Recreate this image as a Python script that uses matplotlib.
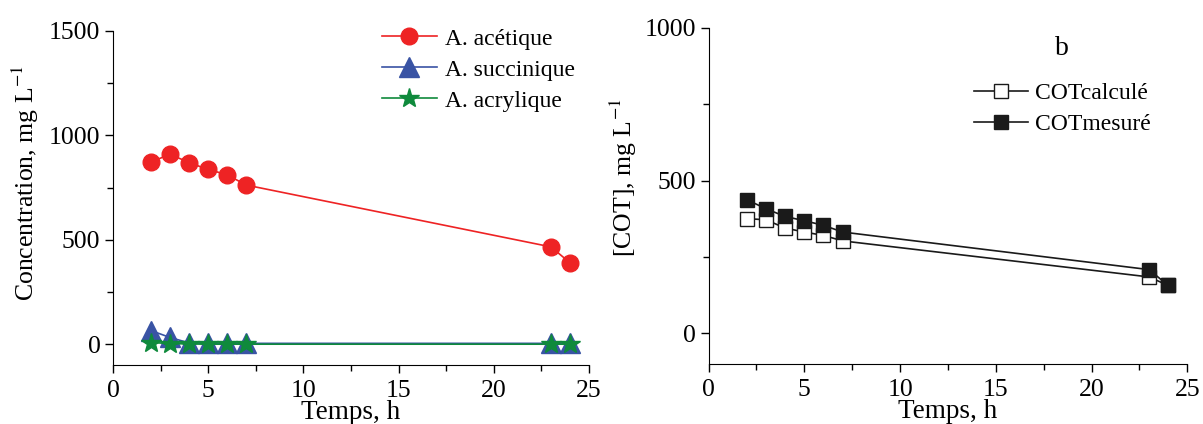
import matplotlib
matplotlib.use("Agg")
import matplotlib.pyplot as plt
from matplotlib.ticker import MultipleLocator

plt.rcParams['font.family'] = ['Liberation Serif', 'DejaVu Serif']
plt.rcParams['mathtext.fontset'] = 'stix'

temps = [2, 3, 4, 5, 6, 7, 23, 24]
acetique = [872, 910, 869, 837, 811, 762, 466, 390]
succinique = [65, 32, 6, 4, 4, 4, 4, 4]
acrylique = [8, 3, 1, 0, 0, 0, 0, 0]
cot_calcule = [376, 372, 345, 332, 321, 303, 185, 157]
cot_mesure = [438, 408, 383, 369, 354, 332, 209, 157]

fig = plt.figure(figsize=(12.03, 4.24), dpi=100)
ax1 = fig.add_axes([0.0939, 0.139, 0.3957, 0.788])
ax2 = fig.add_axes([0.589, 0.1415, 0.398, 0.7925])

red, blue, green = '#ee2324', '#3953a4', '#0f8a3c'
ax1.plot(temps, acetique, '-o', color=red, mfc=red, mec=red, ms=12, lw=1.2, label='A. acétique')
ax1.plot(temps, succinique, '-^', color=blue, mfc=blue, mec=blue, ms=14, lw=1.2, label='A. succinique')
ax1.plot(temps, acrylique, '-*', color=green, mfc=green, mec=green, ms=15, lw=1.2, label='A. acrylique')
ax1.set_xlim(0, 25)
ax1.set_ylim(-100, 1500)
ax1.yaxis.set_major_locator(MultipleLocator(500))
ax1.yaxis.set_minor_locator(MultipleLocator(250))
ax1.set_ylabel('Concentration, mg L$^{-1}$', fontsize=18.5)
ax1.yaxis.set_label_coords(-0.151, 0.545)
ax1.legend(loc='upper left', bbox_to_anchor=(0.546, 1.037), frameon=False, fontsize=17,
           handlelength=2.3, handletextpad=0.35, labelspacing=0.4, borderaxespad=0)

ax2.plot(temps, cot_calcule, '-s', color='#1a1a1a', mfc='white', mec='#1a1a1a', ms=10, lw=1.2, label='COTcalculé')
ax2.plot(temps, cot_mesure, '-s', color='#1a1a1a', mfc='#1a1a1a', mec='#1a1a1a', ms=10, lw=1.2, label='COTmesuré')
ax2.set_xlim(0, 25)
ax2.set_ylim(-100, 1000)
ax2.yaxis.set_major_locator(MultipleLocator(500))
ax2.yaxis.set_minor_locator(MultipleLocator(250))
ax2.set_ylabel('[COT], mg L$^{-1}$', fontsize=18.5)
ax2.yaxis.set_label_coords(-0.146, 0.554)
ax2.text(0.737, 0.94, 'b', transform=ax2.transAxes, fontsize=20, ha='center', va='center')
ax2.legend(loc='upper left', bbox_to_anchor=(0.534, 0.865), frameon=False, fontsize=17,
           handlelength=2.3, handletextpad=0.3, labelspacing=0.4, borderaxespad=0)

for ax in (ax1, ax2):
    ax.spines['top'].set_visible(False)
    ax.spines['right'].set_visible(False)
    ax.xaxis.set_major_locator(MultipleLocator(5))
    ax.xaxis.set_minor_locator(MultipleLocator(2.5))
    ax.tick_params(which='major', direction='out', length=6, width=1, labelsize=18.5, pad=3)
    ax.tick_params(axis='x', which='major', pad=4.5)
    ax.tick_params(which='minor', direction='out', length=4, width=1)
    ax.set_xlabel('Temps, h', fontsize=19.5, labelpad=-1)

fig.savefig('out.png', dpi=100)
